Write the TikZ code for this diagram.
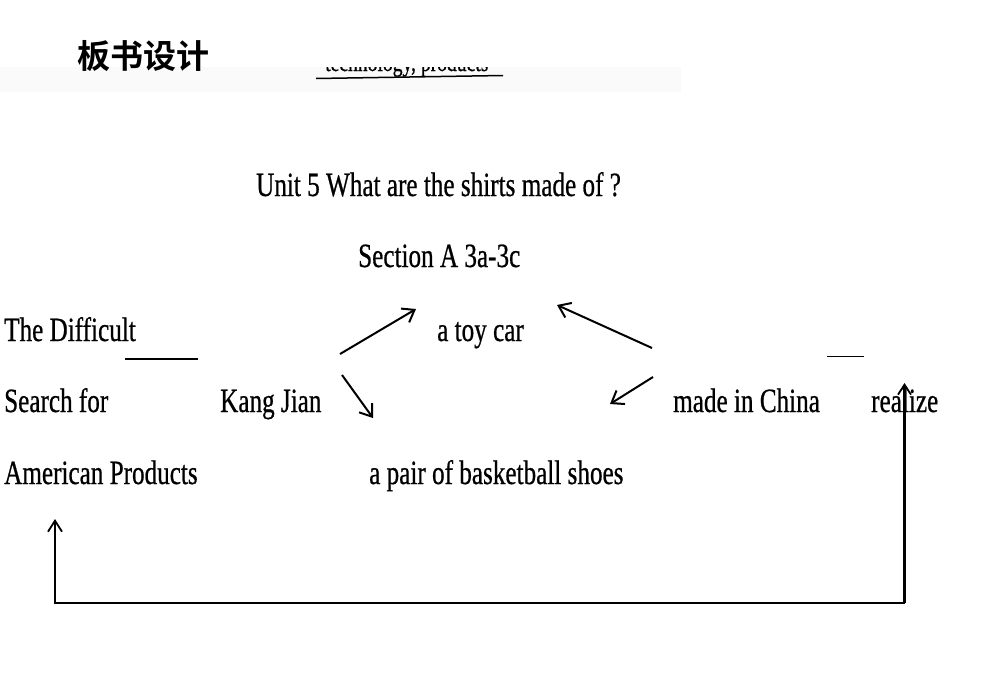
\documentclass[tikz,border=0pt]{standalone}
\usepackage{fontspec}
\setmainfont{Liberation Serif}[FakeStretch=0.74,FakeBold=0.6,Ligatures=NoCommon]
\newfontfamily\cjk{Noto Sans CJK SC}[BoldFont=* Bold]
\usetikzlibrary{arrows.meta}
\begin{document}
\begin{tikzpicture}[x=1pt,y=-1pt,
  txt/.style={anchor=base west,inner sep=0pt,font=\fontsize{34}{34}\selectfont},
  tip/.style={-{Straight Barb[length=11pt,width=16pt,line width=2pt]}},
  arr/.style={line width=2pt,tip},
  loopline/.style={line width=1.7pt},
  rule/.style={line width=2pt}]
\useasboundingbox (0,0) rectangle (1000,672);
\fill[gray!4] (0,67) rectangle (681,92);
% heading
\node[inner sep=0pt,anchor=center] (head) at (143,56.5) {\cjk\bfseries\fontsize{33}{33}\selectfont 板书设计};
% fragment, only its lower edge shows
\node[anchor=base west,inner sep=0pt,font=\fontsize{26.5}{26.5}\selectfont] (frag) at (325,71) {technology, products};
\fill[white] (300,40) rectangle (520,67);
\coordinate (fragL) at (316,78.5);
\coordinate (fragR) at (503,75.5);
\draw[line width=1.5pt] (fragL) -- (fragR);
% texts
\node[txt] (title) at (256,196) {Unit 5 What are the shirts made of ?};
\node[txt] (sec) at (358,267) {Section A 3a-3c};
\node[txt] (diff) at (4,341) {The Difficult};
\node[txt] (toy) at (437,341) {a toy car};
\node[txt] (search) at (4,412) {Search for};
\node[txt] (kang) at (220,412) {Kang Jian};
\node[txt] (china) at (673,412) {made in China};
\node[txt] (realize) at (871,412) {realize};
\node[txt] (amer) at (4,484) {American Products};
\node[txt] (shoes) at (369,484) {a pair of basketball shoes};
% blanks
\coordinate (b1a) at (125,358.5);
\coordinate (b1b) at (198,358.5);
\draw[rule] (b1a) -- (b1b);
\coordinate (b2a) at (827,356.5);
\coordinate (b2b) at (864,356.5);
\draw[line width=1.4pt] (b2a) -- (b2b);
% arrows
\coordinate (k1) at (340,354);
\coordinate (t1) at (416,309);
\coordinate (k2) at (342,375);
\coordinate (s1) at (373,418);
\coordinate (c1) at (652,348);
\coordinate (t2) at (557,305);
\coordinate (c2) at (653,377);
\coordinate (s2) at (610,404);
\draw[arr] (k1) -- (t1);
\draw[arr] (k2) -- (s1);
\draw[arr] (c1) -- (t2);
\draw[arr] (c2) -- (s2);
% loop
\coordinate (rb) at (904.5,603);
\coordinate (lb) at (55,603);
\coordinate (lt) at (55,519);
\coordinate (rt) at (904.5,383);
\draw[loopline,-{Straight Barb[length=11pt,width=14pt,line width=1.8pt]}] (rb) -- (lb) -- (lt);
\draw[line width=2.4pt,-{Straight Barb[length=10pt,width=13pt,line width=1.8pt]}] (rb) -- (rt);
\end{tikzpicture}
\end{document}
